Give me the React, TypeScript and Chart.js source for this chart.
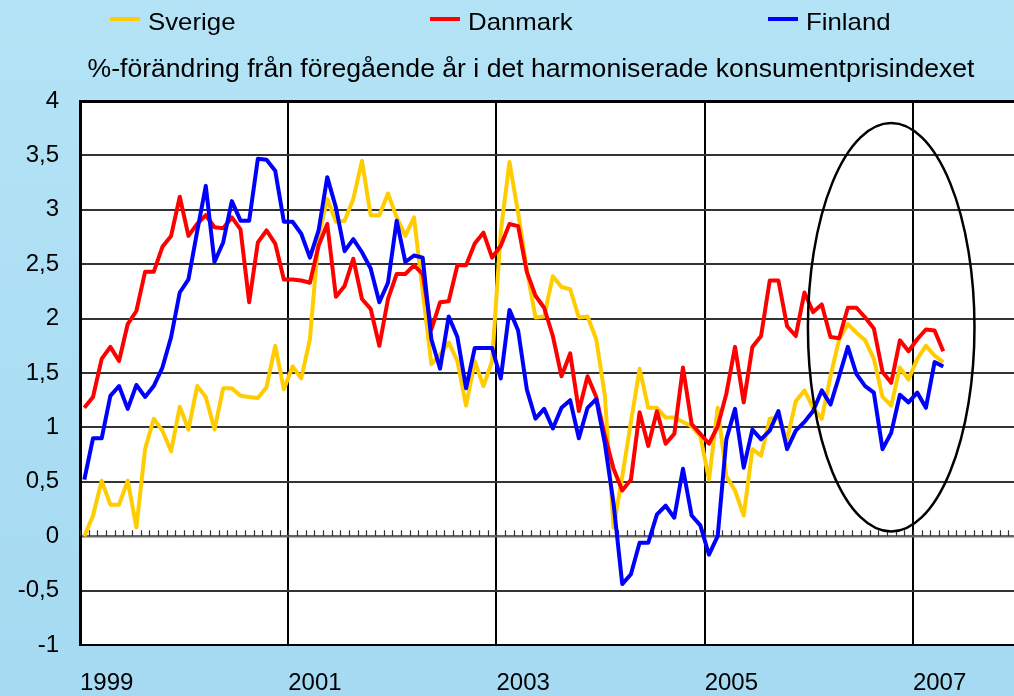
import React, { useEffect, useRef } from "react";
import { Chart, registerables } from "chart.js";

Chart.register(...registerables);

const START_YEAR = 1999;
const YEAR_TICKS = [1999, 2001, 2003, 2005, 2007];
const MONTHS_ON_AXIS = 108;
const Y_MIN = -1;
const Y_MAX = 4;
const Y_STEP = 0.5;
const TITLE = "%-förändring från föregående år i det harmoniserade konsumentprisindexet";
const SERIES_NAMES = ["Sverige", "Danmark", "Finland"];
const SERIES_COLORS = ["#ffcc00", "#ff0000", "#0000ff"];

// monthly values, Jan 1999 .. Apr 2007
const SVERIGE = [
  0.0, 0.19, 0.51, 0.29, 0.29, 0.51, 0.08, 0.8, 1.08, 0.97, 0.78, 1.19,
  0.98, 1.38, 1.28, 0.98, 1.36, 1.36, 1.29, 1.28, 1.27, 1.37, 1.75, 1.35,
  1.56, 1.45, 1.81, 2.75, 3.1, 2.89, 2.9, 3.1, 3.45, 2.95, 2.95, 3.15,
  2.93, 2.76, 2.93, 2.25, 1.58, 1.67, 1.78, 1.61, 1.2, 1.61, 1.38, 1.61,
  2.8, 3.44, 2.97, 2.45, 2.01, 2.02, 2.39, 2.29, 2.27, 2.01, 2.02, 1.81,
  1.29, 0.08, 0.55, 1.05, 1.54, 1.18, 1.18, 1.09, 1.09, 1.05, 1.01, 0.92,
  0.52, 1.18, 0.55, 0.42, 0.19, 0.8, 0.74, 1.08, 1.09, 0.89, 1.24, 1.34,
  1.18, 1.08, 1.47, 1.81, 1.95, 1.87, 1.8, 1.63, 1.28, 1.2, 1.55, 1.44,
  1.63, 1.75, 1.66, 1.6,
];
const DANMARK = [
  1.18, 1.28, 1.63, 1.74, 1.61, 1.95, 2.07, 2.43, 2.43, 2.66, 2.76, 3.12,
  2.76, 2.87, 2.95, 2.84, 2.83, 2.93, 2.82, 2.15, 2.7, 2.81, 2.69, 2.36,
  2.36, 2.35, 2.33, 2.67, 2.87, 2.2, 2.3, 2.55, 2.18, 2.09, 1.75, 2.18,
  2.41, 2.41, 2.49, 2.41, 1.9, 2.15, 2.16, 2.49, 2.49, 2.69, 2.79, 2.56,
  2.67, 2.87, 2.85, 2.43, 2.21, 2.1, 1.84, 1.47, 1.68, 1.15, 1.47, 1.28,
  0.92, 0.62, 0.42, 0.52, 1.14, 0.83, 1.15, 0.85, 0.94, 1.55, 1.03, 0.94,
  0.85, 1.01, 1.31, 1.74, 1.23, 1.74, 1.84, 2.35, 2.35, 1.93, 1.84, 2.24,
  2.06, 2.13, 1.83, 1.82, 2.1, 2.1, 2.01, 1.91, 1.51, 1.41, 1.8, 1.7,
  1.81, 1.9, 1.89, 1.7,
];
const FINLAND = [
  0.52, 0.9, 0.9, 1.29, 1.38, 1.17, 1.39, 1.28, 1.38, 1.55, 1.83, 2.24,
  2.36, 2.8, 3.22, 2.52, 2.7, 3.08, 2.9, 2.9, 3.47, 3.46, 3.36, 2.89,
  2.89, 2.78, 2.56, 2.81, 3.3, 3.02, 2.62, 2.73, 2.61, 2.46, 2.15, 2.33,
  2.9, 2.52, 2.58, 2.56, 1.81, 1.54, 2.02, 1.83, 1.36, 1.73, 1.73, 1.73,
  1.45, 2.08, 1.89, 1.35, 1.08, 1.17, 0.99, 1.18, 1.25, 0.9, 1.18, 1.26,
  0.85, 0.3, -0.44, -0.35, -0.06, -0.06, 0.2, 0.28, 0.17, 0.62, 0.19, 0.1,
  -0.17, 0.0, 0.89, 1.17, 0.63, 0.98, 0.89, 0.97, 1.15, 0.8, 0.97, 1.05,
  1.15, 1.34, 1.21, 1.47, 1.74, 1.49, 1.38, 1.32, 0.8, 0.95, 1.3, 1.23,
  1.32, 1.18, 1.6, 1.56,
];
const SERIES_VALUES = [SVERIGE, DANMARK, FINLAND];

// highlighted region (in months since Jan 1999 / percent units)
const HIGHLIGHT_CENTER_MONTH = 93.5;
const HIGHLIGHT_CENTER_VALUE = 1.92;
const HIGHLIGHT_RADIUS_MONTHS = 9.6;
const HIGHLIGHT_RADIUS_VALUE = 1.877;

const FONT = "'Liberation Sans', Arial, sans-serif";

function stretchedText(ctx: any, text: string, x: number, y: number, sx: number, align: "left" | "center") {
  ctx.save();
  ctx.translate(x, y);
  ctx.scale(sx, 1);
  ctx.textAlign = align;
  ctx.fillText(text, 0, 0);
  ctx.restore();
}

const decorPlugin = {
  id: "decor",
  beforeDraw(chart: any) {
    const { ctx, width, height, chartArea } = chart;
    ctx.save();
    const g = ctx.createLinearGradient(0, 0, 0, height);
    g.addColorStop(0, "#b4e3f6");
    g.addColorStop(1, "#a5daf2");
    ctx.fillStyle = g;
    ctx.fillRect(0, 0, width, height);
    ctx.fillStyle = "#ffffff";
    ctx.fillRect(chartArea.left, chartArea.top, chartArea.right - chartArea.left, chartArea.bottom - chartArea.top);

    // legend
    const legendX = [110, 430, 768];
    ctx.font = `24px ${FONT}`;
    ctx.textBaseline = "alphabetic";
    SERIES_NAMES.forEach((name, i) => {
      ctx.strokeStyle = SERIES_COLORS[i];
      ctx.lineWidth = 4;
      ctx.beginPath();
      ctx.moveTo(legendX[i], 19);
      ctx.lineTo(legendX[i] + 30, 19);
      ctx.stroke();
      ctx.fillStyle = "#000";
      stretchedText(ctx, name, legendX[i] + 38, 30, 1.075, "left");
    });
    // title
    ctx.font = `25px ${FONT}`;
    const w = ctx.measureText(TITLE).width;
    stretchedText(ctx, TITLE, 531, 77, 887 / w, "center");
    ctx.restore();
  },
  beforeDatasetsDraw(chart: any) {
    const { ctx } = chart;
    const xs = chart.scales.x;
    const ys = chart.scales.y;
    const y0 = ys.getPixelForValue(0);
    ctx.save();
    ctx.strokeStyle = "#333";
    ctx.lineWidth = 1.2;
    ctx.beginPath();
    for (let k = 0; k <= MONTHS_ON_AXIS; k++) {
      const x = Math.round(xs.getPixelForValue(k)) + 0.5;
      ctx.moveTo(x, y0);
      ctx.lineTo(x, y0 - 6);
    }
    ctx.stroke();
    ctx.restore();
  },
  afterDatasetsDraw(chart: any) {
    const { ctx } = chart;
    const xs = chart.scales.x;
    const ys = chart.scales.y;
    const cx = xs.getPixelForValue(HIGHLIGHT_CENTER_MONTH);
    const cy = ys.getPixelForValue(HIGHLIGHT_CENTER_VALUE);
    const rx = xs.getPixelForValue(HIGHLIGHT_CENTER_MONTH + HIGHLIGHT_RADIUS_MONTHS) - cx;
    const ry = cy - ys.getPixelForValue(HIGHLIGHT_CENTER_VALUE + HIGHLIGHT_RADIUS_VALUE);
    ctx.save();
    ctx.strokeStyle = "#000";
    ctx.lineWidth = 2.5;
    ctx.beginPath();
    ctx.ellipse(cx, cy, rx, ry, 0, 0, Math.PI * 2);
    ctx.stroke();
    ctx.restore();
  },
};

export default function App() {
  const ref = useRef<HTMLCanvasElement | null>(null);

  useEffect(() => {
    if (!ref.current) return;
    const datasets = SERIES_NAMES.map((name, s) => ({
      label: name,
      data: SERIES_VALUES[s].map((v, i) => ({ x: i + 0.5, y: v })),
      borderColor: SERIES_COLORS[s],
      backgroundColor: SERIES_COLORS[s],
      borderWidth: 4,
      pointRadius: 0,
      tension: 0,
      borderJoinStyle: "round" as const,
      order: 3 - s,
    }));
    const chart = new Chart(ref.current, {
      type: "line",
      data: { datasets },
      plugins: [decorPlugin],
      options: {
        responsive: false,
        animation: false,
        devicePixelRatio: 1,
        layout: { padding: { top: 101, left: 0, right: 0, bottom: 0 } },
        plugins: {
          legend: { display: false },
          title: { display: false },
          tooltip: { enabled: false },
        },
        scales: {
          x: {
            type: "linear",
            min: 0,
            max: MONTHS_ON_AXIS,
            afterBuildTicks: (scale: any) => {
              scale.ticks = YEAR_TICKS.map((y) => ({ value: (y - START_YEAR) * 12 }));
            },
            afterFit: (scale: any) => {
              scale.height = 51;
            },
            grid: { color: "#000", lineWidth: 2, drawTicks: false },
            border: { display: true, color: "#000", width: 2 },
            ticks: {
              align: "start",
              padding: 24,
              autoSkip: false,
              maxRotation: 0,
              color: "#000",
              font: { family: FONT, size: 24 },
              callback: (v: any) => String(START_YEAR + Math.round(Number(v) / 12)),
            },
          },
          y: {
            min: Y_MIN,
            max: Y_MAX,
            afterFit: (scale: any) => {
              scale.width = 80;
            },
            grid: {
              drawTicks: false,
              color: (c: any) => (c.tick && c.tick.value === Y_MAX ? "#000" : c.tick && c.tick.value === 0 ? "#666" : "#333"),
              lineWidth: (c: any) => (c.tick && c.tick.value === Y_MAX ? 3 : c.tick && c.tick.value === 0 ? 2.5 : 2),
            },
            border: { display: true, color: "#000", width: 3 },
            ticks: {
              stepSize: Y_STEP,
              padding: 21,
              color: "#000",
              font: { family: FONT, size: 24 },
              callback: (v: any) => String(v).replace(".", ","),
            },
          },
        },
      },
    } as any);
    return () => chart.destroy();
  }, []);

  return (
    <div style={{ position: "fixed", left: 0, top: 0, width: 1014, height: 696, overflow: "hidden" }}>
      <canvas ref={ref} width={1017} height={696} style={{ display: "block", width: 1017, height: 696 }} />
    </div>
  );
}
